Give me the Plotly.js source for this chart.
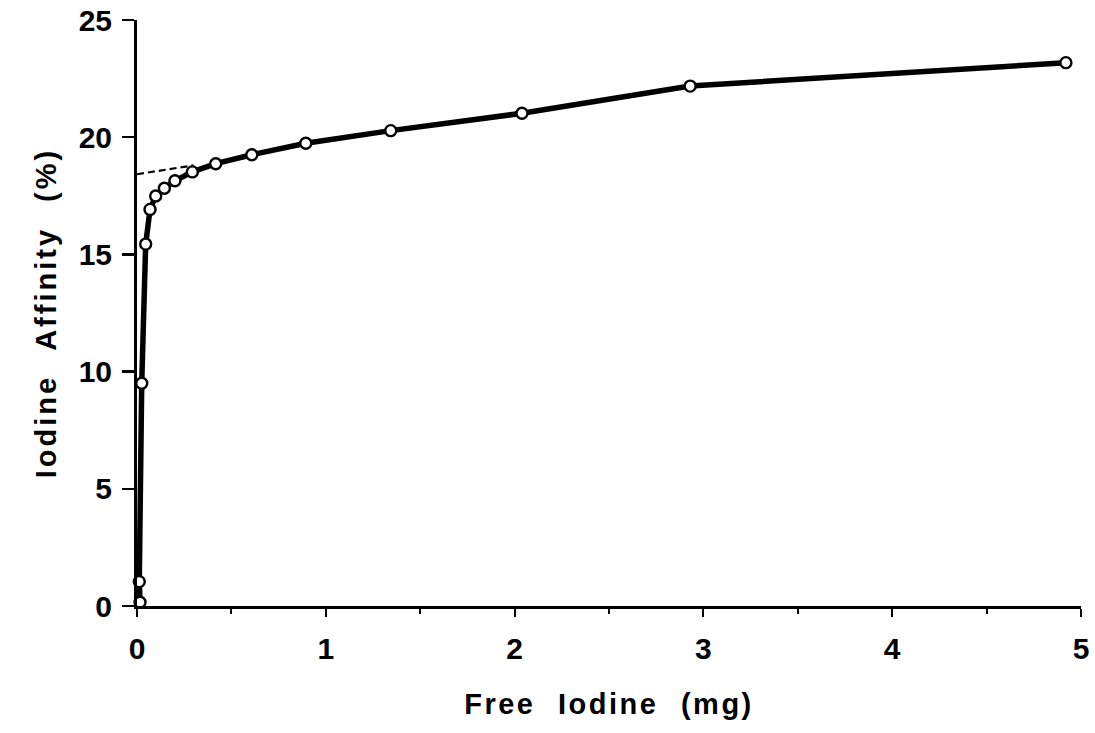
<!DOCTYPE html>
<html>
<head>
<meta charset="utf-8">
<script src="https://cdn.plot.ly/plotly-3.0.1.min.js"></script>
<style>
body{margin:0;background:#fff;}
#chart{width:1095px;height:733px;}
.xtitle{letter-spacing:2.5px;word-spacing:12px;}
.ytitle{letter-spacing:3px;word-spacing:14px;}
</style>
</head>
<body>
<div id="chart"></div>
<script>
const freeIodine = [0.016, 0.012, 0.025, 0.046, 0.069, 0.099, 0.145, 0.201, 0.293, 0.417, 0.608, 0.894, 1.344, 2.039, 2.93, 4.92];
const iodineAffinity = [0.16, 1.04, 9.5, 15.44, 16.92, 17.49, 17.82, 18.14, 18.52, 18.87, 19.25, 19.74, 20.28, 21.02, 22.18, 23.18];
const extrapX = [0, 0.3];
const extrapY = [18.42, 18.8];
const xTickVals = [0, 1, 2, 3, 4, 5];
const yTickVals = [0, 5, 10, 15, 20, 25];

const fam = 'Liberation Sans, Arial, Helvetica, sans-serif';

const traces = [
  {x: extrapX, y: extrapY, mode: 'lines', line: {color: '#000', width: 2.2, dash: '7px,4px'}, hoverinfo: 'skip', showlegend: false},
  {x: freeIodine, y: iodineAffinity, mode: 'lines+markers',
   line: {color: '#000', width: 5.5},
   marker: {symbol: 'circle', size: 11, color: '#fff', line: {color: '#000', width: 2.4}},
   showlegend: false, cliponaxis: false}
];

const layout = {
  width: 1095, height: 733,
  margin: {l: 137, r: 14, t: 20, b: 127},
  paper_bgcolor: '#fff', plot_bgcolor: '#fff',
  font: {family: fam, color: '#000', size: 30, weight: 700},
  showlegend: false,
  xaxis: {
    range: [0, 5], tickvals: xTickVals, ticktext: xTickVals.map(String),
    showgrid: false, zeroline: false, showline: true, linecolor: '#000', linewidth: 3,
    ticks: 'outside', ticklen: 8, tickwidth: 2, tickcolor: '#000',
    minor: {tickvals: [0.5, 1.5, 2.5, 3.5, 4.5], ticks: 'outside', ticklen: 5, tickwidth: 2, tickcolor: '#000'},
    ticklabelstandoff: 6,
    tickfont: {family: fam, size: 30, weight: 700, color: '#000'},
    title: {text: 'Free Iodine (mg)', font: {family: fam, size: 29, weight: 700, color: '#000'}, standoff: 30}
  },
  yaxis: {
    range: [0, 25], tickvals: yTickVals, ticktext: yTickVals.map(String),
    showgrid: false, zeroline: false, showline: true, linecolor: '#000', linewidth: 3,
    ticks: 'outside', ticklen: 12, tickwidth: 2.5, tickcolor: '#000',
    ticklabelstandoff: 4,
    tickfont: {family: fam, size: 30, weight: 700, color: '#000'},
    title: {text: 'Iodine Affinity (%)', font: {family: fam, size: 29, weight: 700, color: '#000'}, standoff: 14}
  }
};

Plotly.newPlot('chart', traces, layout, {displayModeBar: false, staticPlot: true});
</script>
</body>
</html>
